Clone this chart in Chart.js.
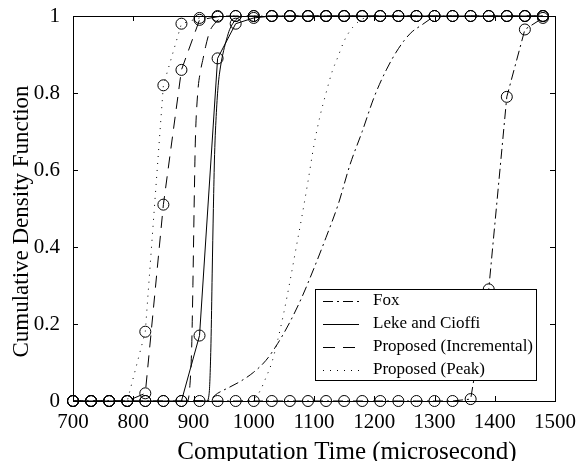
<!DOCTYPE html>
<html>
<head>
<meta charset="utf-8">
<script src="https://cdn.jsdelivr.net/npm/chart.js@4.4.0/dist/chart.umd.min.js"></script>
<style>
  html, body { margin: 0; padding: 0; background: #fff; }
  #wrap { width: 578px; height: 461px; }
</style>
</head>
<body>
<div id="wrap"><canvas id="cdfChart" width="578" height="461"></canvas></div>
<script>
// sampled CDFs, one value every 30 microseconds (drawn with circles)
const gridTimes = [700, 730, 760, 790, 820, 850, 880, 910, 940, 970, 1000, 1030, 1060, 1090,
    1120, 1150, 1180, 1210, 1240, 1270, 1300, 1330, 1360, 1390, 1420, 1450, 1480];
const foxSampled = [0, 0, 0, 0, 0, 0, 0, 0, 0, 0, 0, 0, 0, 0,
    0, 0, 0, 0, 0, 0, 0, 0, 0.005, 0.29, 0.79, 0.965, 0.995];
const lekeSampled = [0, 0, 0, 0, 0, 0, 0, 0.17, 0.89, 0.98, 0.995, 1, 1, 1,
    1, 1, 1, 1, 1, 1, 1, 1, 1, 1, 1, 1, 1];
const incrementalSampled = [0, 0, 0, 0, 0.02, 0.51, 0.86, 0.99, 0.998, 1, 1, 1, 1, 1,
    1, 1, 1, 1, 1, 1, 1, 1, 1, 1, 1, 1, 1];
const peakSampled = [0, 0, 0, 0, 0.18, 0.82, 0.98, 0.995, 1, 1, 1, 1, 1, 1,
    1, 1, 1, 1, 1, 1, 1, 1, 1, 1, 1, 1, 1];

// fitted CDF curves (no markers)
const foxCurveX = [900, 922, 940, 960, 980, 1000, 1020, 1040, 1060, 1080, 1100, 1120, 1140,
    1160, 1180, 1200, 1220, 1240, 1260, 1280, 1300];
const foxCurveY = [0, 0, 0.02, 0.036, 0.053, 0.075, 0.105, 0.15, 0.205, 0.27, 0.345, 0.425, 0.51,
    0.615, 0.7, 0.79, 0.86, 0.915, 0.955, 0.978, 1];
const lekeCurveX = [900, 922, 926, 929, 931, 933, 935, 938, 941, 945, 950, 955, 960, 970, 980];
const lekeCurveY = [0, 0, 0.02, 0.15, 0.33, 0.5, 0.64, 0.75, 0.82, 0.87, 0.91, 0.94, 0.965, 0.99, 1];
const incrementalCurveX = [880, 890, 894, 897, 899, 901, 903, 907, 912, 916, 920, 927, 935, 945, 960];
const incrementalCurveY = [0, 0, 0.04, 0.14, 0.3, 0.5, 0.67, 0.8, 0.86, 0.89, 0.92, 0.96, 0.98, 0.995, 1];
const peakCurveX = [980, 1000, 1010, 1020, 1030, 1040, 1050, 1060, 1070, 1080, 1090, 1100, 1110,
    1120, 1130, 1140, 1150, 1160, 1170, 1180, 1200];
const peakCurveY = [0, 0.005, 0.025, 0.06, 0.1, 0.16, 0.23, 0.31, 0.395, 0.48, 0.57, 0.665, 0.74,
    0.8, 0.855, 0.895, 0.935, 0.962, 0.98, 0.992, 1];

const methodNames = ['Fox', 'Leke and Cioffi', 'Proposed (Incremental)', 'Proposed (Peak)'];
const xTickValues = [700, 800, 900, 1000, 1100, 1200, 1300, 1400, 1500];
const xTickLabels = ['700', '800', '900', '1000', '1100', '1200', '1300', '1400', '1500'];
const yTickValues = [0, 0.2, 0.4, 0.6, 0.8, 1];
const yTickLabels = ['0', '0.2', '0.4', '0.6', '0.8', '1'];
const xTitle = 'Computation Time (microsecond)';
const yTitle = 'Cumulative Density Function';

const SERIF = '"Liberation Serif", "Times New Roman", serif';
const dashes = [[10, 4, 2, 4], [], [12, 8], [1, 6]];

function toPoints(xs, ys) {
    return xs.map((x, i) => ({ x: x, y: ys[i] }));
}

function curveDataset(i, xs, ys) {
    return {
        label: methodNames[i],
        data: toPoints(xs, ys),
        borderColor: '#000',
        borderWidth: 1,
        borderDash: dashes[i],
        pointRadius: 0,
        cubicInterpolationMode: 'monotone',
        clip: false,
        inLegend: true
    };
}

function sampledDataset(i, ys) {
    return {
        label: methodNames[i] + ' (samples)',
        data: toPoints(gridTimes, ys),
        borderColor: '#000',
        borderWidth: 1,
        borderDash: dashes[i],
        pointRadius: 5.5,
        pointStyle: 'circle',
        pointBorderColor: '#000',
        pointBackgroundColor: 'rgba(0,0,0,0)',
        pointBorderWidth: 1,
        tension: 0,
        clip: false,
        inLegend: false
    };
}

// MATLAB style box with inward ticks on all four sides
const axesBox = {
    id: 'axesBox',
    beforeDatasetsDraw(chart) {
        const { ctx, chartArea: a, scales } = chart;
        ctx.save();
        ctx.strokeStyle = '#000';
        ctx.lineWidth = 1;
        ctx.strokeRect(a.left + 0.5, a.top + 0.5, a.right - a.left, a.bottom - a.top);
        ctx.beginPath();
        scales.x.ticks.forEach(t => {
            const px = Math.round(scales.x.getPixelForValue(t.value)) + 0.5;
            ctx.moveTo(px, a.bottom); ctx.lineTo(px, a.bottom - 5);
            ctx.moveTo(px, a.top); ctx.lineTo(px, a.top + 5);
        });
        scales.y.ticks.forEach(t => {
            const py = Math.round(scales.y.getPixelForValue(t.value)) + 0.5;
            ctx.moveTo(a.left, py); ctx.lineTo(a.left + 5, py);
            ctx.moveTo(a.right, py); ctx.lineTo(a.right - 5, py);
        });
        ctx.stroke();
        ctx.restore();
    }
};

// axis titles, placed a little right of / below the axes centre like the source figure
const axisTitles = {
    id: 'axisTitles',
    afterDraw(chart) {
        const { ctx, chartArea: a } = chart;
        ctx.save();
        ctx.fillStyle = '#000';
        ctx.textAlign = 'center';
        ctx.font = '25px ' + SERIF;
        ctx.textBaseline = 'alphabetic';
        ctx.fillText(xTitle, (a.left + a.right) / 2 + 33, chart.height - 2);
        ctx.font = '23px ' + SERIF;
        ctx.textBaseline = 'middle';
        ctx.translate(21.5, (a.top + a.bottom) / 2 + 13);
        ctx.rotate(-Math.PI / 2);
        ctx.fillText(yTitle, 0, 0);
        ctx.restore();
    }
};

// boxed legend inside the lower right of the axes
const legendBox = {
    id: 'legendBox',
    afterDraw(chart) {
        const { ctx, chartArea: a } = chart;
        const entries = chart.data.datasets.filter(ds => ds.inLegend);
        const w = 221, h = 91;
        const left = a.right - 19 - w;
        const top = a.bottom - 21 - h;
        ctx.save();
        ctx.fillStyle = '#fff';
        ctx.fillRect(left, top, w, h);
        ctx.strokeStyle = '#000';
        ctx.lineWidth = 1;
        ctx.strokeRect(left + 0.5, top + 0.5, w, h);
        ctx.font = '17px ' + SERIF;
        ctx.textBaseline = 'middle';
        ctx.fillStyle = '#000';
        entries.forEach((ds, i) => {
            const y = top + 12 + i * 23;
            ctx.setLineDash(ds.borderDash);
            ctx.beginPath();
            ctx.moveTo(left + 8, y + 0.5);
            ctx.lineTo(left + 44, y + 0.5);
            ctx.stroke();
            ctx.setLineDash([]);
            ctx.fillText(ds.label, left + 58, y);
        });
        ctx.restore();
    }
};

function renderChart() {
    const ctx = document.getElementById('cdfChart').getContext('2d');
    new Chart(ctx, {
        type: 'line',
        data: {
            datasets: [
                curveDataset(0, foxCurveX, foxCurveY),
                curveDataset(1, lekeCurveX, lekeCurveY),
                curveDataset(2, incrementalCurveX, incrementalCurveY),
                curveDataset(3, peakCurveX, peakCurveY),
                sampledDataset(0, foxSampled),
                sampledDataset(1, lekeSampled),
                sampledDataset(2, incrementalSampled),
                sampledDataset(3, peakSampled)
            ]
        },
        options: {
            responsive: false,
            animation: false,
            devicePixelRatio: 1,
            layout: { padding: { top: 16, right: 23, left: 0, bottom: 0 } },
            plugins: {
                legend: { display: false },
                tooltip: { enabled: false }
            },
            scales: {
                x: {
                    type: 'linear',
                    min: 700,
                    max: 1500,
                    afterFit: s => { s.height = 60; s.paddingLeft = 0; s.paddingRight = 0; },
                    afterBuildTicks: s => { s.ticks = xTickValues.map(v => ({ value: v })); },
                    grid: { display: false, drawTicks: false },
                    border: { display: false },
                    ticks: {
                        padding: 9,
                        color: '#000',
                        maxRotation: 0,
                        font: { family: SERIF, size: 21 },
                        callback: (v, i) => xTickLabels[i]
                    },
                    title: { display: false }
                },
                y: {
                    type: 'linear',
                    min: 0,
                    max: 1,
                    afterFit: s => { s.width = 73; s.paddingTop = 0; s.paddingBottom = 0; },
                    afterBuildTicks: s => { s.ticks = yTickValues.map(v => ({ value: v })); },
                    grid: { display: false, drawTicks: false },
                    border: { display: false },
                    ticks: {
                        padding: 13,
                        color: '#000',
                        font: { family: SERIF, size: 21 },
                        callback: (v, i) => yTickLabels[i]
                    },
                    title: { display: false }
                }
            }
        },
        plugins: [axesBox, axisTitles, legendBox]
    });
}

renderChart();
</script>
</body>
</html>
